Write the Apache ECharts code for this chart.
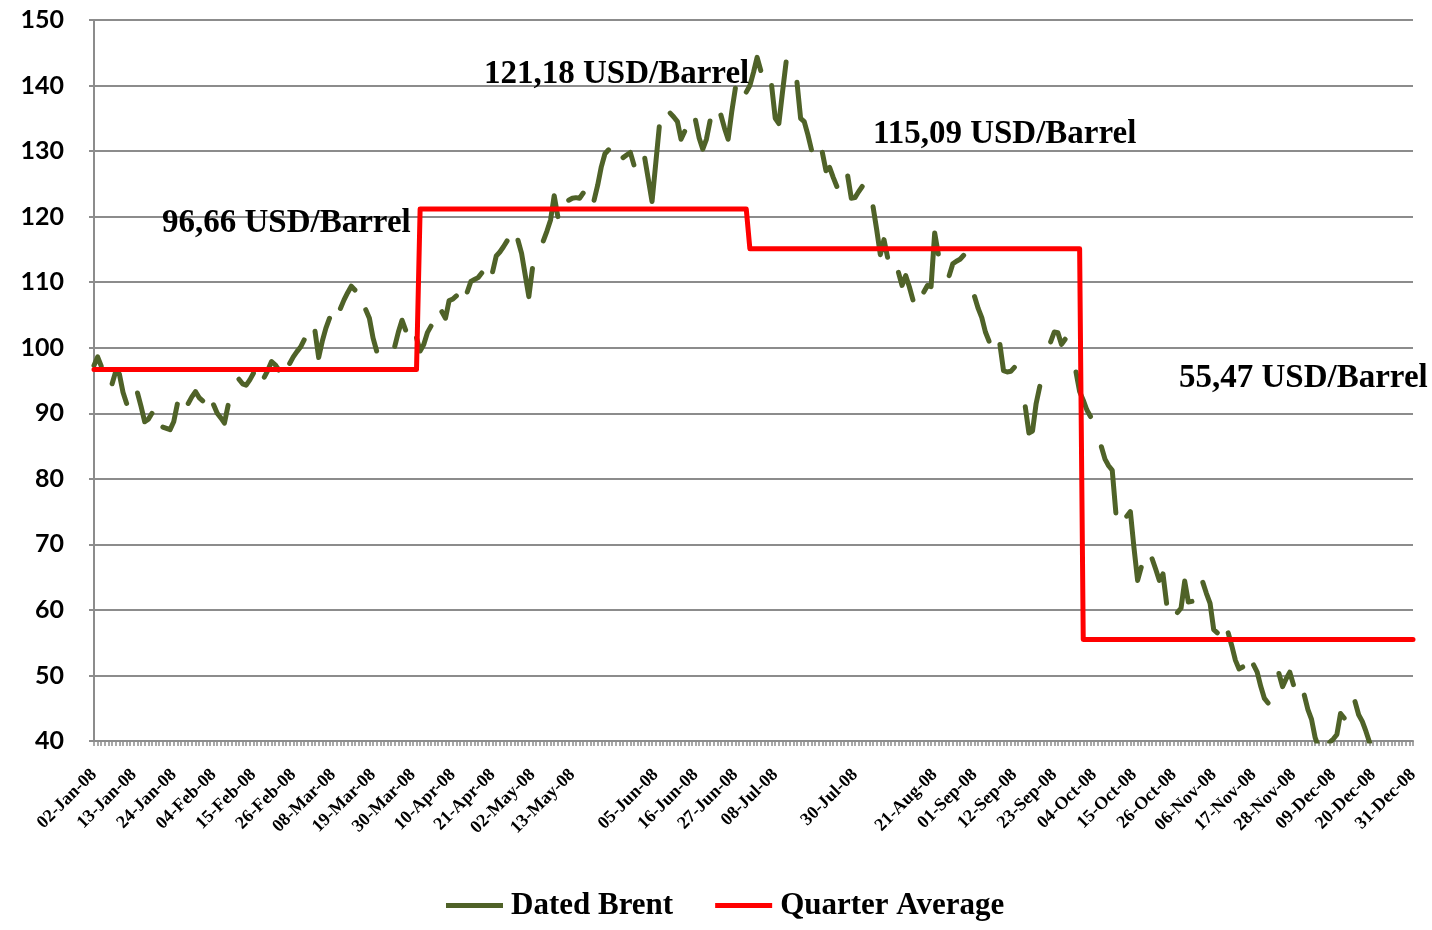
<!DOCTYPE html>
<html><head><meta charset="utf-8">
<script src="https://cdn.jsdelivr.net/npm/echarts@6/dist/echarts.min.js"></script>
<style>html,body{margin:0;padding:0;background:#fff}#c{width:1432px;height:930px}</style>
</head><body><div id="c"></div>
<script>
// ---- data ----
const seriesNames = ['Dated Brent', 'Quarter Average'];
const quarterAverages = [96.66, 121.18, 115.09, 55.47];
const quarterLabels = ['96,66 USD/Barrel', '121,18 USD/Barrel', '115,09 USD/Barrel', '55,47 USD/Barrel'];
const tickLabels = ['02-Jan-08','13-Jan-08','24-Jan-08','04-Feb-08','15-Feb-08','26-Feb-08','08-Mar-08','19-Mar-08','30-Mar-08','10-Apr-08','21-Apr-08','02-May-08','13-May-08','05-Jun-08','16-Jun-08','27-Jun-08','08-Jul-08','30-Jul-08','21-Aug-08','01-Sep-08','12-Sep-08','23-Sep-08','04-Oct-08','15-Oct-08','26-Oct-08','06-Nov-08','17-Nov-08','28-Nov-08','09-Dec-08','20-Dec-08','31-Dec-08'];
const yTicks = [40, 50, 60, 70, 80, 90, 100, 110, 120, 130, 140, 150];

// Dated Brent, one value per weekday of each month (null = no assessment)
const jan = [97.3,98.6,97.2, 94.5,96.4,96.0,93.2,91.5, 93.1,91.0,88.7,89.1,90.0, 87.9,87.7,87.5,88.7,91.4, 91.5,92.5,93.3,92.4];
const feb = [91.9, 91.3,90.0,89.3,88.5,91.2, 95.2,94.5,94.3,95.1,96.1, 95.5,96.6,97.9,97.4,96.6, 97.6,98.6,99.4,100.1,101.2];
const mar = [102.5,98.5,101.0,103.0,104.5, 106.0,107.3,108.4,109.4,108.8, 105.8,104.5,101.5,99.5,null, null,100.2,102.4,104.2,102.7, 101.5];
const apr = [99.5,100.5,102.3,103.3, 105.5,104.5,107.2,107.4,107.9, 108.5,110.1,110.4,110.7,111.4, 111.6,114.0,114.6,115.4,116.3, 116.4,114.4,111.1];
const may = [107.8,112.1, 116.3,117.8,119.5,123.2,120.0, 122.5,122.8,122.9,122.8,123.6, 122.5,124.8,127.6,129.6,130.2, null,129.0,129.4,129.8,127.9];
const jun = [128.9,125.6,122.3,128.0,133.7, 135.8,135.2,134.5,131.8,133.0, 134.7,132.0,130.3,131.8,134.6, 135.5,133.5,131.8,136.0,139.6, 139.0];
const jul = [140.0,142.0,144.3,142.3, 140.0,135.0,134.2,139.0,143.6, 140.5,135.0,134.5,132.5,130.2, 129.8,127.0,127.5,126.0,124.6, 126.2,122.8,122.9,123.8];
const aug = [124.6, 121.5,118.0,114.2,116.5,113.8, 111.5,109.5,111.0,109.3,107.3, 108.5,109.5,109.3,117.5,114.3, 111.0,112.8,113.2,113.5,114.1];
const sep = [107.8,106.0,104.6,102.4,101.0, 100.5,96.5,96.3,96.4,97.0, 91.0,87.0,87.3,91.5,94.1, 100.9,102.4,102.3,100.5,101.3, 96.3,93.3];
const oct = [92.0,90.5,89.5, 84.9,83.0,82.0,81.3,74.8, 74.3,75.0,69.5,64.5,66.5, 67.8,66.2,64.5,65.5,61.0, 59.6,60.3,64.4,61.2,61.3];
const nov = [64.2,62.5,61.0,57.0,56.5, 56.5,54.5,52.3,51.0,51.3, 51.6,50.5,48.3,46.5,45.8, 50.3,48.3,49.5,50.5,48.6];
const dec = [47.0,44.8,43.3,40.5,39.0, 39.8,40.3,41.0,44.2,43.5, 46.0,44.0,43.0,41.5,39.8, 37.0,35.5,36.0,null,null, 37.0,37.5,36.5];

// ---- build daily category axis (calendar) ----
const MONTHS = ['Jan','Feb','Mar','Apr','May','Jun','Jul','Aug','Sep','Oct','Nov','Dec'];
const monthly = [jan, feb, mar, apr, may, jun, jul, aug, sep, oct, nov, dec];
const categories = [], brent = [], quarter = [];
const cursor = new Array(12).fill(0);
for (let t = Date.UTC(2008, 0, 2); t <= Date.UTC(2008, 11, 31); t += 86400000) {
  const d = new Date(t);
  const m = d.getUTCMonth(), day = d.getUTCDate(), wd = d.getUTCDay();
  categories.push(String(day).padStart(2, '0') + '-' + MONTHS[m] + '-08');
  if (wd === 0 || wd === 6) brent.push(null);
  else brent.push(monthly[m][cursor[m]++]);
  quarter.push(quarterAverages[Math.floor(m / 3)]);
}
const labelSet = new Set(tickLabels);

const serif = '"Liberation Serif", "DejaVu Serif", serif';
const annFont = 'bold 33px ' + serif;
const chart = echarts.init(document.getElementById('c'));
chart.setOption({
  animation: false,
  backgroundColor: '#ffffff',
  grid: { left: 94, right: 19, top: 20, bottom: 189, containLabel: false },
  xAxis: {
    type: 'category', data: categories, boundaryGap: false,
    axisLine: { lineStyle: { color: '#8c8c8c', width: 2 } },
    axisTick: { show: true, interval: 0, length: 5, lineStyle: { color: '#8c8c8c', width: 1.5 } },
    axisLabel: {
      interval: (i, v) => labelSet.has(v), rotate: 45, margin: 31,
      fontFamily: serif, fontWeight: 'bold', fontSize: 18, color: '#000'
    },
    splitLine: { show: false }
  },
  yAxis: {
    type: 'value', min: 40, max: 150, interval: 10,
    axisLine: { show: true, lineStyle: { color: '#8c8c8c', width: 2 } },
    axisTick: { show: true, length: 5, lineStyle: { color: '#8c8c8c', width: 2 } },
    axisLabel: { fontFamily: 'Lato, "Liberation Sans", sans-serif', fontWeight: 'bold', fontSize: 25, color: '#000', margin: 30 },
    splitLine: { lineStyle: { color: '#8c8c8c', width: 2 } }
  },
  legend: {
    bottom: 4, left: 441, itemWidth: 57, itemHeight: 5, itemGap: 42, icon: 'rect',
    textStyle: { fontFamily: serif, fontWeight: 'bold', fontSize: 31, color: '#000', padding: [0, 0, 0, 3] },
    data: seriesNames
  },
  series: [
    { name: seriesNames[0], type: 'line', data: brent, showSymbol: false, connectNulls: false,
      lineStyle: { color: '#4F6228', width: 5, cap: 'round', join: 'round' }, itemStyle: { color: '#4F6228' }, z: 2 },
    { name: seriesNames[1], type: 'line', data: quarter, showSymbol: false,
      lineStyle: { color: '#FF0000', width: 5, cap: 'round', join: 'round' }, itemStyle: { color: '#FF0000' }, z: 3 }
  ],
  graphic: [
    { type: 'text', left: 162, top: 207, z: 100, style: { text: quarterLabels[0], font: annFont, fill: '#000' } },
    { type: 'text', left: 484, top: 58, z: 100, style: { text: quarterLabels[1], font: annFont, fill: '#000' } },
    { type: 'text', left: 873, top: 118, z: 100, style: { text: quarterLabels[2], font: annFont, fill: '#000' } },
    { type: 'text', left: 1179, top: 362, z: 100, style: { text: quarterLabels[3], font: annFont, fill: '#000' } }
  ]
});
</script>
</body></html>
